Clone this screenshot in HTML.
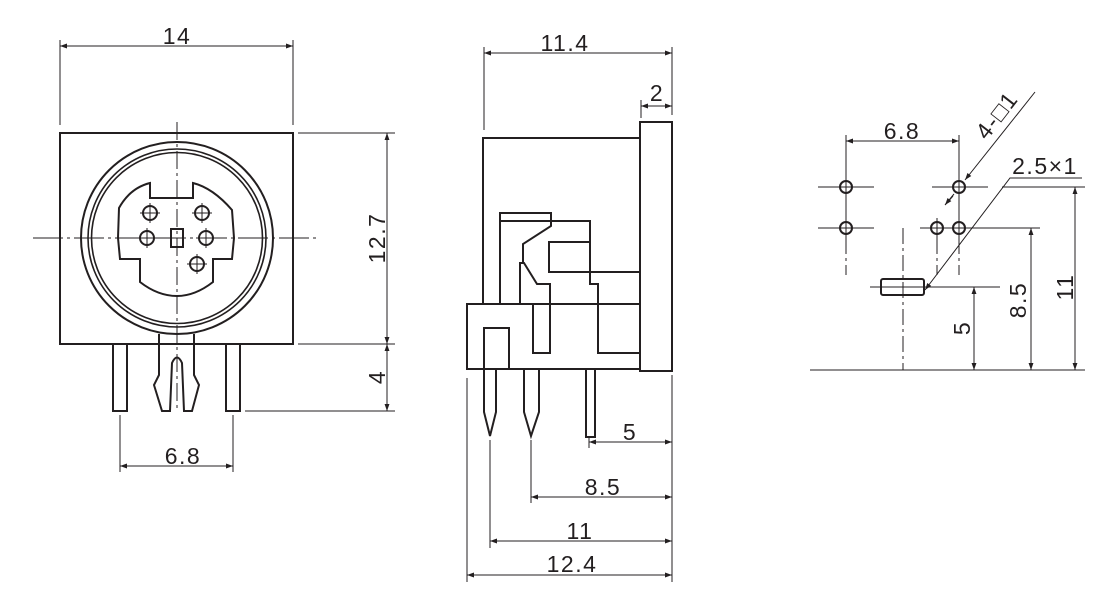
<!DOCTYPE html>
<html><head><meta charset="utf-8"><style>
html,body{margin:0;padding:0;background:#fff;}
svg{display:block}
text{font-family:"Liberation Sans",sans-serif;font-size:23px;letter-spacing:1.5px;fill:#231f20}
</style></head><body>
<svg width="1120" height="608" viewBox="0 0 1120 608" xmlns="http://www.w3.org/2000/svg">
<defs>
<marker id="a" viewBox="0 0 10 10" refX="10" refY="5" markerWidth="9" markerHeight="7" orient="auto-start-reverse" markerUnits="userSpaceOnUse"><path d="M0,1.5 L10,5 L0,8.5z" fill="#231f20"/></marker>
</defs>
<g stroke="#231f20" fill="none">
<!-- LEFT VIEW -->
<g stroke-width="2">
<rect x="60" y="133" width="233" height="211"/>
<circle cx="177" cy="238" r="96"/>
<circle cx="177" cy="238" r="89" stroke-width="1.6"/>
<circle cx="177" cy="238" r="85.5" stroke-width="1.6"/>
<path d="M118,238 L119,208 Q130,188 150,183 L150,198 L193,198 L193,183 Q213,188 232,210 L234,238 L232,259 L213,259 L213,282 Q195,296 177,296 Q158,296 140,282 L140,259 L120,259 Z"/>
<circle cx="150" cy="213" r="7"/><circle cx="202" cy="213" r="7"/>
<circle cx="147" cy="238" r="7"/><circle cx="206" cy="238" r="7"/>
<circle cx="197" cy="264" r="7"/>
<rect x="171" y="229" width="12" height="18"/>
<rect x="113" y="344" width="14" height="67"/>
<rect x="226" y="344" width="14" height="67"/>
<path d="M159,334 L159,375 L154,385 L162,411 L170,411 L172,363 Q177,352 182,363 L184,411 L192,411 L199,385 L194,375 L194,334"/>
</g>
<g stroke-width="1">
<path d="M177,122 V410" stroke-dasharray="18,4,3,4"/>
<path d="M33,238 H318" stroke-dasharray="30,4,3,4"/>
<path d="M140,213 H160 M150,203 V223 M192,213 H212 M202,203 V223 M137,238 H157 M147,228 V248 M196,238 H216 M206,228 V248 M187,264 H207 M197,254 V274"/>
<path d="M60,40 V125 M293,40 V125"/>
<path d="M60,46 H293" marker-start="url(#a)" marker-end="url(#a)"/>
<path d="M298,133 H395 M298,344 H395 M245,411 H395"/>
<path d="M387,133 V344" marker-start="url(#a)" marker-end="url(#a)"/>
<path d="M387,344 V411" marker-start="url(#a)" marker-end="url(#a)"/>
<path d="M120,415 V472 M233,415 V472"/>
<path d="M120,466 H233" marker-start="url(#a)" marker-end="url(#a)"/>
</g>

<!-- MIDDLE VIEW -->
<g stroke-width="2">
<path d="M483,304 V138 H640"/>
<rect x="640" y="122" width="32" height="249"/>
<rect x="467" y="304" width="173" height="65"/>
<path d="M484,369 V328 H509 V369"/>
<path d="M500,304 V213 H551 V226 L523,244 V263 M520,304 V263 H524 L537,284 H550 V353 H533 V304"/>
<path d="M500,221 H590 V284 H598 V353 H640"/>
<path d="M590,272 H549 V242 H590 M590,272 H640"/>
<path d="M484,369 V412 L490,436 L496,412 V369"/>
<path d="M524,369 V412 L531,436 L539,412 V369"/>
<rect x="586" y="369" width="9" height="68"/>
</g>
<g stroke-width="1">
<path d="M484,47 V130 M672,47 V115 M641,100 V118"/>
<path d="M484,53 H672" marker-start="url(#a)" marker-end="url(#a)"/>
<path d="M641,106 H672" marker-start="url(#a)" marker-end="url(#a)"/>
<path d="M467,378 V582 M672,375 V582 M490,440 V548 M531,440 V503 M589,437 V448"/>
<path d="M589,442 H672" marker-start="url(#a)" marker-end="url(#a)"/>
<path d="M531,497 H672" marker-start="url(#a)" marker-end="url(#a)"/>
<path d="M490,541 H672" marker-start="url(#a)" marker-end="url(#a)"/>
<path d="M467,575 H672" marker-start="url(#a)" marker-end="url(#a)"/>
</g>

<!-- RIGHT VIEW -->
<g stroke-width="2">
<circle cx="846" cy="187" r="6"/><circle cx="959" cy="187" r="6"/>
<circle cx="846" cy="228" r="6"/><circle cx="937" cy="228" r="6"/><circle cx="959" cy="228" r="6"/>
<rect x="881" y="279" width="43" height="16" rx="2"/>
</g>
<g stroke-width="1">
<path d="M818,187 H874 M932,187 H988 M818,228 H874 M920,228 H1040 M870,287 H1000"/>
<path d="M846,175 V240 M959,175 V240 M937,218 V240" />
<path d="M846,240 V275 M959,240 V275 M937,240 V275" stroke-dasharray="14,4,3,4"/>
<path d="M903,228 V370" stroke-dasharray="16,4,3,4"/>
<path d="M810,370 H1085"/>
<path d="M846,135 V175 M959,135 V175"/>
<path d="M846,141 H959" marker-start="url(#a)" marker-end="url(#a)"/>
<path d="M1002,187 H1085"/>
<path d="M1035,92 L965,180" marker-end="url(#a)"/>
<path d="M945,205 L954,194 M953,196 L945,205" marker-start="url(#a)"/>
<path d="M1082,178 H1010 L925,290" marker-end="url(#a)"/>
<path d="M974,287 V370" marker-start="url(#a)" marker-end="url(#a)"/>
<path d="M1031,228 V370" marker-start="url(#a)" marker-end="url(#a)"/>
<path d="M1075,187 V370" marker-start="url(#a)" marker-end="url(#a)"/>
</g>
</g>

<g text-anchor="middle">
<text x="177" y="44">14</text>
<text x="183" y="464">6.8</text>
<text x="377" y="238" transform="rotate(-90 377 238)" dy="8">12.7</text>
<text x="377" y="377" transform="rotate(-90 377 377)" dy="8">4</text>
<text x="565" y="51">11.4</text>
<text x="657" y="101">2</text>
<text x="630" y="440">5</text>
<text x="603" y="495">8.5</text>
<text x="580" y="539">11</text>
<text x="572" y="572">12.4</text>
<text x="902" y="139">6.8</text>
<text x="1045" y="174">2.5×1</text>
<text x="962" y="328" transform="rotate(-90 962 328)" dy="8">5</text>
<text x="1018" y="300" transform="rotate(-90 1018 300)" dy="8">8.5</text>
<text x="1065" y="287" transform="rotate(-90 1065 287)" dy="8">11</text>
<text x="1003" y="120" transform="rotate(-52 1003 120)">4-□1</text>
</g>
</svg>
</body></html>
